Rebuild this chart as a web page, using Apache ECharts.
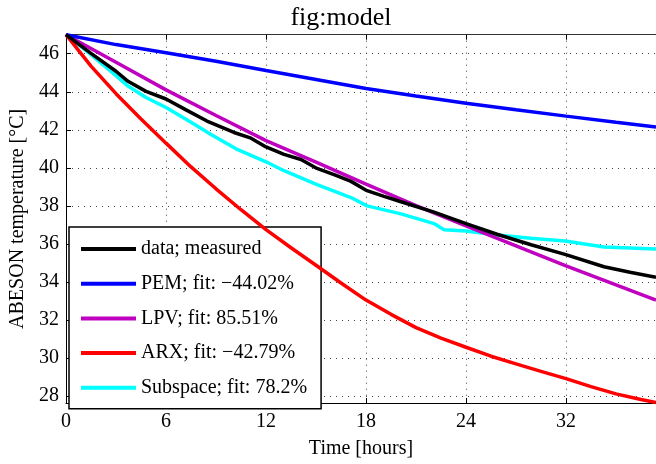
<!DOCTYPE html>
<html><head><meta charset="utf-8">
<script src="https://cdn.jsdelivr.net/npm/echarts@6/dist/echarts.min.js"></script>
<style>html,body{margin:0;padding:0;background:#fff}#c{width:656px;height:464px}</style>
</head><body><div id="c"></div>
<script>
// x positions are in tick units (one unit = one labelled tick step)
const xTickPos = [0, 1, 2, 3, 4, 5];
const xTickLabels = ['0', '6', '12', '18', '24', '32'];
const yTicks = [28, 30, 32, 34, 36, 38, 40, 42, 44, 46];

const measuredX = [0, 0.25, 0.5, 0.62, 0.8, 1.0, 1.2, 1.41, 1.68, 1.85, 2.0, 2.18, 2.35, 2.51, 2.7, 2.85, 3.01, 3.18, 3.35, 3.68, 4.0, 4.31, 4.65, 4.99, 5.38, 5.64, 5.9];
const measuredY = [47, 46.02, 45.08, 44.55, 44.02, 43.62, 43.05, 42.46, 41.86, 41.56, 41.1, 40.71, 40.44, 39.97, 39.6, 39.29, 38.8, 38.5, 38.22, 37.67, 37.07, 36.51, 35.96, 35.45, 34.8, 34.51, 34.25];

const pemX = [0, 0.5, 1, 1.5, 2, 2.5, 3, 3.5, 4, 4.5, 5, 5.5, 5.9];
const pemY = [47, 46.48, 46.05, 45.6, 45.12, 44.65, 44.17, 43.78, 43.4, 43.05, 42.72, 42.4, 42.15];

const lpvX = [0, 0.5, 1, 1.5, 2, 2.5, 3, 3.5, 4, 4.5, 5, 5.5, 5.9];
const lpvY = [47, 45.55, 44.1, 42.75, 41.43, 40.3, 39.15, 38.02, 36.95, 35.9, 34.85, 33.85, 33.05];

const arxX = [0, 0.25, 0.5, 0.75, 1, 1.25, 1.5, 1.75, 2, 2.25, 2.5, 2.75, 3, 3.25, 3.5, 3.75, 4, 4.25, 4.5, 4.75, 5, 5.25, 5.5, 5.75, 5.9];
const arxY = [47, 45.35, 43.9, 42.57, 41.3, 40.05, 38.9, 37.8, 36.75, 35.8, 34.88, 33.95, 33.05, 32.3, 31.6, 31.05, 30.57, 30.1, 29.7, 29.3, 28.92, 28.5, 28.12, 27.82, 27.67];

const subX = [0, 0.25, 0.5, 0.62, 0.8, 1.0, 1.25, 1.45, 1.7, 2.0, 2.18, 2.51, 2.85, 3.01, 3.35, 3.68, 3.78, 4.0, 4.31, 4.65, 4.99, 5.25, 5.38, 5.9];
const subY = [47, 45.95, 44.85, 44.3, 43.7, 43.17, 42.4, 41.75, 41.0, 40.32, 39.85, 39.12, 38.44, 38.0, 37.58, 37.07, 36.75, 36.68, 36.47, 36.3, 36.16, 35.95, 35.84, 35.74];

const seriesNames = ['data; measured', 'PEM; fit: \u221244.02%', 'LPV; fit: 85.51%', 'ARX; fit: \u221242.79%', 'Subspace; fit: 78.2%'];
const seriesColors = ['#000000', '#0000ff', '#bf00bf', '#ff0000', '#00ffff'];

const zip = (xs, ys) => xs.map((x, i) => [x, ys[i]]);
const dataSets = [zip(measuredX, measuredY), zip(pemX, pemY), zip(lpvX, lpvY), zip(arxX, arxY), zip(subX, subY)];

const font = 'Liberation Serif';
const chart = echarts.init(document.getElementById('c'));
const gridLine = { show: true, lineStyle: { color: '#444', width: 1, type: [1, 5] } };
chart.setOption({
  animation: false,
  backgroundColor: '#fff',
  title: { text: 'fig:model', left: 336, top: 0, textAlign: 'center',
    textStyle: { fontFamily: font, fontSize: 26, fontWeight: 'normal', color: '#000' } },
  grid: { left: 65, top: 34.7, right: 0, bottom: 51.7, show: false },
  legend: {
    orient: 'vertical', left: 69, top: 227,
    padding: [12, 14, 11, 12], itemGap: 14.7, itemWidth: 55, itemHeight: 4,
    icon: 'rect', borderColor: '#000', borderWidth: 1.5, backgroundColor: '#fff',
    textStyle: { fontFamily: font, fontSize: 20, color: '#000', lineHeight: 20 },
    data: seriesNames
  },
  xAxis: [{
    type: 'value', min: 0, max: 5.9, position: 'bottom',
    name: 'Time [hours]', nameLocation: 'middle', nameGap: 36,
    nameTextStyle: { fontFamily: font, fontSize: 20, color: '#000' },
    axisLine: { show: true, onZero: false, lineStyle: { color: '#000', width: 1 } },
    axisTick: { show: true, inside: true, length: 5, customValues: xTickPos, lineStyle: { color: '#000' } },
    axisLabel: { customValues: xTickPos, margin: 9, fontFamily: font, fontSize: 20, color: '#000',
      formatter: v => xTickLabels[xTickPos.indexOf(Math.round(v))] },
    splitLine: gridLine
  }, {
    type: 'value', min: 0, max: 5.9, position: 'top',
    axisLine: { show: true, onZero: false, lineStyle: { color: '#333', width: 1 } },
    axisTick: { show: true, inside: true, length: 5, customValues: xTickPos, lineStyle: { color: '#000' } },
    axisLabel: { show: false }, splitLine: { show: false }
  }],
  yAxis: [{
    type: 'value', min: 27.64, max: 47,
    name: 'ABESON temperature [°C]', nameLocation: 'middle', nameGap: 38, nameRotate: 90,
    nameTextStyle: { fontFamily: font, fontSize: 20, color: '#000' },
    axisLine: { show: true, onZero: false, lineStyle: { color: '#000', width: 1 } },
    axisTick: { show: true, inside: true, length: 5, customValues: yTicks, lineStyle: { color: '#000' } },
    axisLabel: { customValues: yTicks, margin: 7, fontFamily: font, fontSize: 20, color: '#000' },
    splitLine: gridLine
  }],
  series: dataSets.map((d, i) => ({
    name: seriesNames[i], type: 'line', data: d, showSymbol: false, symbol: 'none',
    color: seriesColors[i], lineStyle: { width: 3.5, color: seriesColors[i] }, z: 10 - i, smooth: false
  }))
});
</script></body></html>
